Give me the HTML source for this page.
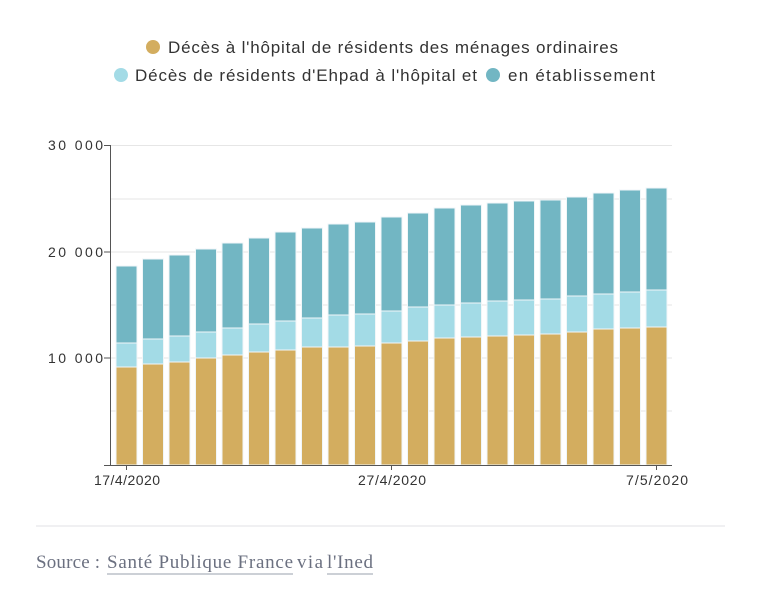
<!DOCTYPE html>
<html><head><meta charset="utf-8"><style>
body{margin:0;background:#fff;width:765px;height:594px;overflow:hidden;font-family:"Liberation Sans",sans-serif}
</style></head><body>
<svg width="765" height="594" xmlns="http://www.w3.org/2000/svg" style="position:absolute;left:0;top:0">
<g font-family="Liberation Sans, sans-serif" font-size="17" fill="#333">
<circle cx="153" cy="47" r="7" fill="#d3ad5f"/><text x="168" y="53" textLength="450" lengthAdjust="spacing">Décès à l'hôpital de résidents des ménages ordinaires</text>
<circle cx="121" cy="75" r="7" fill="#a3dbe6"/><text x="135" y="81" textLength="342" lengthAdjust="spacing">Décès de résidents d'Ehpad à l'hôpital et</text>
<circle cx="493" cy="75" r="7" fill="#72b6c3"/><text x="508" y="81" textLength="147" lengthAdjust="spacing">en établissement</text>
</g>
<g stroke="#e6e6e6" stroke-width="1">
<line x1="110" y1="145.5" x2="672" y2="145.5"/><line x1="110" y1="199" x2="672" y2="199"/>
<line x1="110" y1="252" x2="672" y2="252"/><line x1="110" y1="305" x2="672" y2="305"/>
<line x1="110" y1="358" x2="672" y2="358"/><line x1="110" y1="411" x2="672" y2="411"/>
</g>
<g font-size="14" fill="#333" font-family="Liberation Sans, sans-serif">
<text x="48" y="150" textLength="55" lengthAdjust="spacing">30 000</text><text x="48" y="257" textLength="55" lengthAdjust="spacing">20 000</text><text x="48" y="363" textLength="55" lengthAdjust="spacing">10 000</text>
</g>
<g stroke="#555"><line x1="104" y1="145.5" x2="110" y2="145.5"/><line x1="104" y1="252" x2="110" y2="252"/><line x1="104" y1="358" x2="110" y2="358"/></g>
<g stroke="#f0f6f8" stroke-width="1">
<rect x="116" y="266" width="21" height="77" fill="#72b6c3"/><rect x="116" y="343" width="21" height="24" fill="#a3dbe6"/><rect x="116" y="367" width="21" height="98" fill="#d3ad5f"/>
<rect x="142.5" y="259" width="21" height="80" fill="#72b6c3"/><rect x="142.5" y="339" width="21" height="25" fill="#a3dbe6"/><rect x="142.5" y="364" width="21" height="101" fill="#d3ad5f"/>
<rect x="169" y="255" width="21" height="81" fill="#72b6c3"/><rect x="169" y="336" width="21" height="26" fill="#a3dbe6"/><rect x="169" y="362" width="21" height="103" fill="#d3ad5f"/>
<rect x="195.5" y="249" width="21" height="83" fill="#72b6c3"/><rect x="195.5" y="332" width="21" height="26" fill="#a3dbe6"/><rect x="195.5" y="358" width="21" height="107" fill="#d3ad5f"/>
<rect x="222" y="243" width="21" height="85" fill="#72b6c3"/><rect x="222" y="328" width="21" height="27" fill="#a3dbe6"/><rect x="222" y="355" width="21" height="110" fill="#d3ad5f"/>
<rect x="248.5" y="238" width="21" height="86" fill="#72b6c3"/><rect x="248.5" y="324" width="21" height="28" fill="#a3dbe6"/><rect x="248.5" y="352" width="21" height="113" fill="#d3ad5f"/>
<rect x="275" y="232" width="21" height="89" fill="#72b6c3"/><rect x="275" y="321" width="21" height="29" fill="#a3dbe6"/><rect x="275" y="350" width="21" height="115" fill="#d3ad5f"/>
<rect x="301.5" y="228" width="21" height="90" fill="#72b6c3"/><rect x="301.5" y="318" width="21" height="29" fill="#a3dbe6"/><rect x="301.5" y="347" width="21" height="118" fill="#d3ad5f"/>
<rect x="328" y="224" width="21" height="91" fill="#72b6c3"/><rect x="328" y="315" width="21" height="32" fill="#a3dbe6"/><rect x="328" y="347" width="21" height="118" fill="#d3ad5f"/>
<rect x="354.5" y="222" width="21" height="92" fill="#72b6c3"/><rect x="354.5" y="314" width="21" height="32" fill="#a3dbe6"/><rect x="354.5" y="346" width="21" height="119" fill="#d3ad5f"/>
<rect x="381" y="217" width="21" height="94" fill="#72b6c3"/><rect x="381" y="311" width="21" height="32" fill="#a3dbe6"/><rect x="381" y="343" width="21" height="122" fill="#d3ad5f"/>
<rect x="407.5" y="213" width="21" height="94" fill="#72b6c3"/><rect x="407.5" y="307" width="21" height="34" fill="#a3dbe6"/><rect x="407.5" y="341" width="21" height="124" fill="#d3ad5f"/>
<rect x="434" y="208" width="21" height="97" fill="#72b6c3"/><rect x="434" y="305" width="21" height="33" fill="#a3dbe6"/><rect x="434" y="338" width="21" height="127" fill="#d3ad5f"/>
<rect x="460.5" y="205" width="21" height="98" fill="#72b6c3"/><rect x="460.5" y="303" width="21" height="34" fill="#a3dbe6"/><rect x="460.5" y="337" width="21" height="128" fill="#d3ad5f"/>
<rect x="487" y="203" width="21" height="98" fill="#72b6c3"/><rect x="487" y="301" width="21" height="35" fill="#a3dbe6"/><rect x="487" y="336" width="21" height="129" fill="#d3ad5f"/>
<rect x="513.5" y="201" width="21" height="99" fill="#72b6c3"/><rect x="513.5" y="300" width="21" height="35" fill="#a3dbe6"/><rect x="513.5" y="335" width="21" height="130" fill="#d3ad5f"/>
<rect x="540" y="200" width="21" height="99" fill="#72b6c3"/><rect x="540" y="299" width="21" height="35" fill="#a3dbe6"/><rect x="540" y="334" width="21" height="131" fill="#d3ad5f"/>
<rect x="566.5" y="197" width="21" height="99" fill="#72b6c3"/><rect x="566.5" y="296" width="21" height="36" fill="#a3dbe6"/><rect x="566.5" y="332" width="21" height="133" fill="#d3ad5f"/>
<rect x="593" y="193" width="21" height="101" fill="#72b6c3"/><rect x="593" y="294" width="21" height="35" fill="#a3dbe6"/><rect x="593" y="329" width="21" height="136" fill="#d3ad5f"/>
<rect x="619.5" y="190" width="21" height="102" fill="#72b6c3"/><rect x="619.5" y="292" width="21" height="36" fill="#a3dbe6"/><rect x="619.5" y="328" width="21" height="137" fill="#d3ad5f"/>
<rect x="646" y="188" width="21" height="102" fill="#72b6c3"/><rect x="646" y="290" width="21" height="37" fill="#a3dbe6"/><rect x="646" y="327" width="21" height="138" fill="#d3ad5f"/>
</g>
<g stroke="#555" stroke-width="1">
<line x1="110.5" y1="145" x2="110.5" y2="465"/>
<line x1="104" y1="465.5" x2="672" y2="465.5"/>
<line x1="126.5" y1="465" x2="126.5" y2="470"/><line x1="391.5" y1="465" x2="391.5" y2="470"/><line x1="656.5" y1="465" x2="656.5" y2="470"/>
</g>
<g font-size="14" fill="#333" font-family="Liberation Sans, sans-serif">
<text x="94" y="485" textLength="66" lengthAdjust="spacing">17/4/2020</text><text x="358" y="485" textLength="68" lengthAdjust="spacing">27/4/2020</text><text x="626" y="485" textLength="62" lengthAdjust="spacing">7/5/2020</text>
</g>
<line x1="36" y1="526" x2="725" y2="526" stroke="#e2e2e6"/>
<g font-family="Liberation Serif, serif" font-size="19" fill="#6b7080">
<text x="36" y="568" textLength="64" lengthAdjust="spacing">Source :</text>
<text x="107" y="568" textLength="186" lengthAdjust="spacing">Santé Publique France</text>
<text x="297" y="568" textLength="26" lengthAdjust="spacing">via</text>
<text x="327" y="568" textLength="46" lengthAdjust="spacing">l'Ined</text>
</g>
<line x1="107" y1="574" x2="293" y2="574" stroke="#9aa0ad"/>
<line x1="327" y1="574" x2="373" y2="574" stroke="#9aa0ad"/>
</svg>
</body></html>
